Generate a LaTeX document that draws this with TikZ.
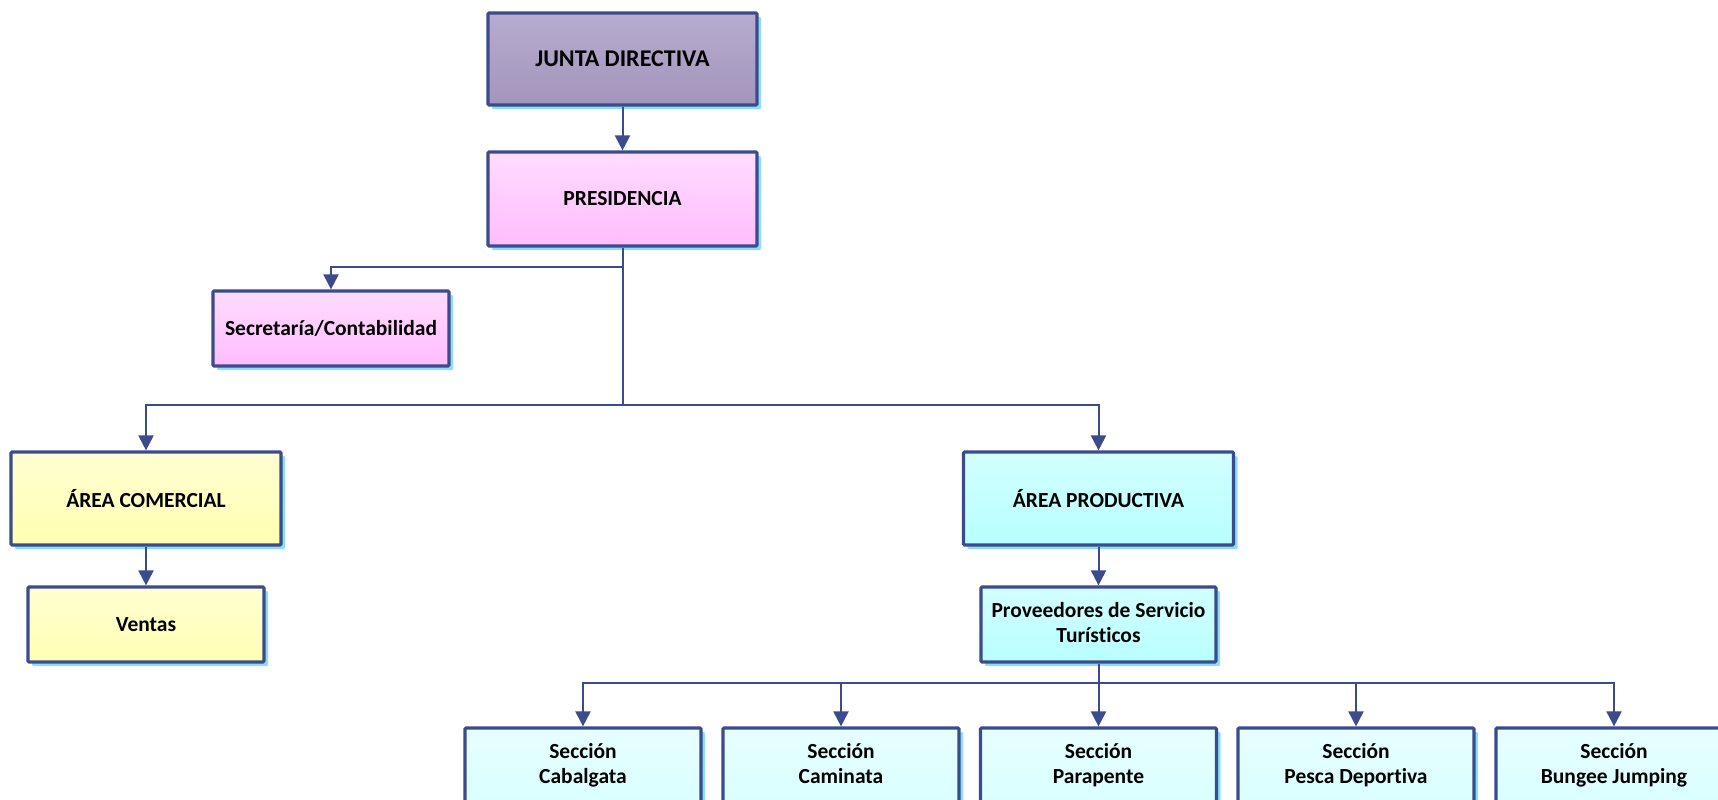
\documentclass[tikz,border=0pt]{standalone}
\usepackage{fontspec}
\setmainfont{Carlito}[Ligatures=NoCommon]
\usetikzlibrary{arrows.meta,shadows}
\definecolor{navy}{RGB}{59,75,140}
\definecolor{shblue}{RGB}{140,222,248}
\definecolor{jdtop}{RGB}{183,172,206}
\definecolor{jdbot}{RGB}{163,149,188}
\definecolor{pktop}{RGB}{255,220,255}
\definecolor{pkbot}{RGB}{255,188,253}
\definecolor{yltop}{RGB}{255,255,210}
\definecolor{ylbot}{RGB}{255,255,178}
\definecolor{cytop}{RGB}{210,255,255}
\definecolor{cybot}{RGB}{184,255,255}
\definecolor{lctop}{RGB}{230,255,255}
\definecolor{lcbot}{RGB}{218,255,255}
\tikzset{
  orgbox/.style={draw=navy, line width=3.2pt, rounded corners=1.2pt,
    general shadow={fill=shblue, shadow xshift=4pt, shadow yshift=-4pt},
    align=center, inner sep=2pt,
    font=\fontsize{21.5}{25}\selectfont\bfseries},
  purplebox/.style={orgbox, top color=jdtop, bottom color=jdbot,
    font=\fontsize{24}{28}\selectfont\bfseries},
  pinkbox/.style={orgbox, top color=pktop, bottom color=pkbot},
  yellowbox/.style={orgbox, top color=yltop, bottom color=ylbot},
  cyanbox/.style={orgbox, top color=cytop, bottom color=cybot},
  lightbox/.style={orgbox, top color=lctop, bottom color=lcbot},
  conn/.style={draw=navy, line width=2pt},
  arr/.style={conn, -{Triangle[width=15pt,length=15pt]}},
}
\begin{document}
\begin{tikzpicture}[x=1pt,y=-1pt]
\useasboundingbox (0,0) rectangle (1718,800);
\node[purplebox, minimum width=269pt, minimum height=92pt] (jd) at (622.5,59) {JUNTA DIRECTIVA};
\node[pinkbox, minimum width=269pt, minimum height=94pt] (pres) at (622.5,199) {PRESIDENCIA};
\node[pinkbox, minimum width=236pt, minimum height=75pt] (sec) at (331,328.5) {Secretaría/Contabilidad};
\node[yellowbox, minimum width=270pt, minimum height=93pt] (com) at (146,498.5) {ÁREA COMERCIAL};
\node[yellowbox, minimum width=236pt, minimum height=75pt] (ven) at (146,624.5) {Ventas};
\node[cyanbox, minimum width=270pt, minimum height=93pt] (prod) at (1098.5,498.5) {ÁREA PRODUCTIVA};
\node[cyanbox, minimum width=235pt, minimum height=75pt] (prov) at (1098.5,624.5) {\strut Proveedores de Servicio\\Turísticos\strut};
\foreach \n/\x/\t in {s1/583/Cabalgata, s2/841/Caminata, s3/1098.5/Parapente, s4/1356/Pesca Deportiva, s5/1614/Bungee Jumping}
  \node[lightbox, minimum width=236pt, minimum height=75pt] (\n) at (\x,765.5) {\strut Sección\\\t\strut};
\coordinate (sb) at (622.5,267);
\coordinate (trunk) at (622.5,405);
\coordinate (bus) at (1098.5,683);
\draw[arr] (jd.south) -- (pres.north);
\draw[conn] (pres.south) -- (trunk);
\draw[arr] (sb) -| (sec.north);
\draw[arr] (trunk) -| (com.north);
\draw[arr] (trunk) -| (prod.north);
\draw[arr] (com.south) -- (ven.north);
\draw[arr] (prod.south) -- (prov.north);
\draw[conn] (prov.south) -- (bus);
\foreach \n in {s1,s2,s3,s4,s5}
  \draw[arr] (bus) -| (\n.north);
\end{tikzpicture}
\end{document}
